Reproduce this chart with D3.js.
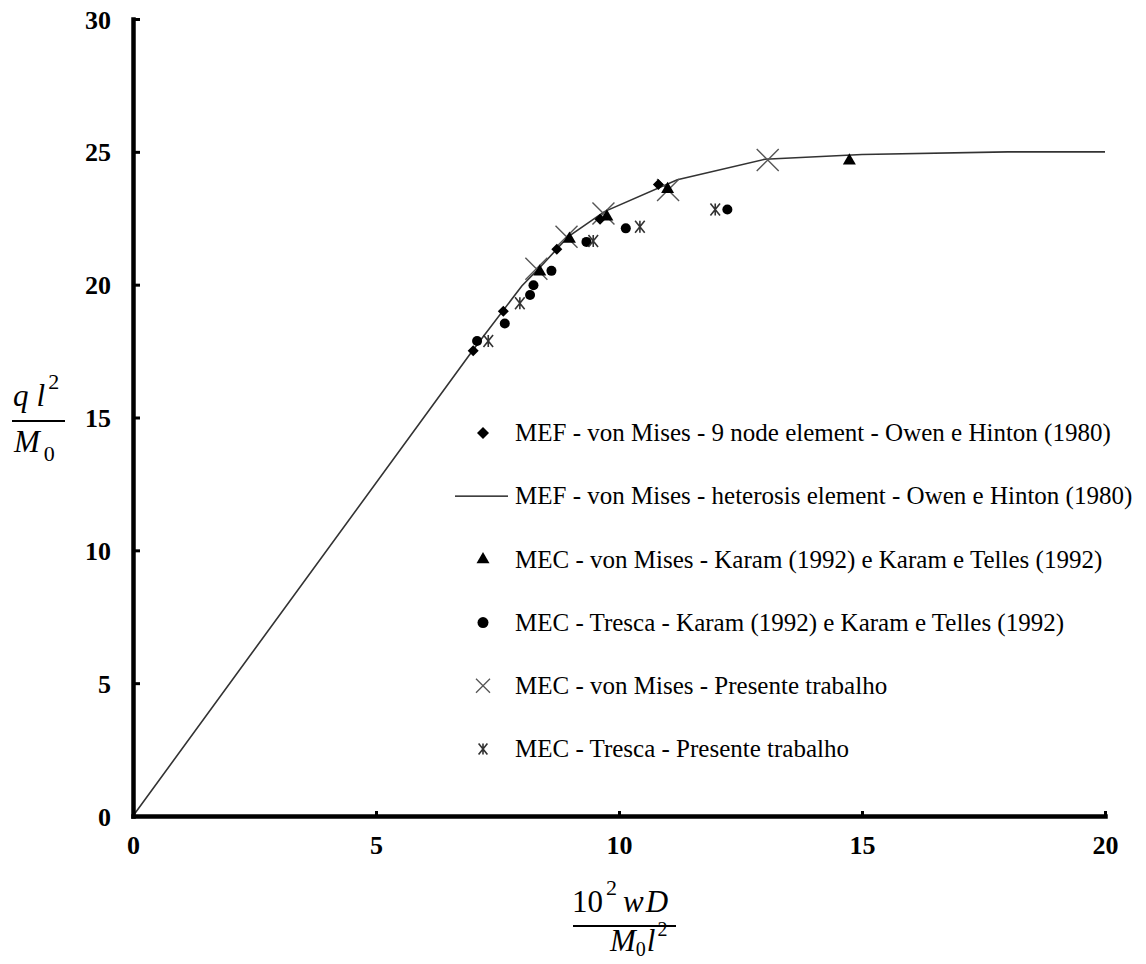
<!DOCTYPE html>
<html>
<head>
<meta charset="utf-8">
<script src="https://cdn.jsdelivr.net/npm/d3@7"></script>
<style>
  html, body { margin: 0; padding: 0; background: #fff; }
  svg { display: block; }
  text { font-family: "Liberation Serif", "Times New Roman", serif; fill: #000; }
</style>
</head>
<body>
<svg id="chart" width="1146" height="964"></svg>
<script>
// ---- data ----
const xTicks = [0, 5, 10, 15, 20];
const yTicks = [0, 5, 10, 15, 20, 25, 30];

// MEF - von Mises - 9 node element - Owen e Hinton (1980)
const mef9Node = [[7.00, 17.51], [7.62, 19.00], [8.72, 21.33], [9.61, 22.46], [10.81, 23.77]];
// MEF - von Mises - heterosis element - Owen e Hinton (1980)
const mefHeterosis = [[0, 0], [7.0, 17.55], [8.0, 19.95], [8.4, 20.7], [8.95, 21.8], [9.7, 22.75],
  [11.2, 23.95], [13.0, 24.72], [15.0, 24.9], [18.0, 25.0], [20.0, 25.0]];
// MEC - von Mises - Karam (1992) e Karam e Telles (1992)
const mecVonMisesKaram = [[8.37, 20.49], [8.98, 21.72], [9.75, 22.56], [11.00, 23.59], [14.74, 24.66]];
// MEC - Tresca - Karam (1992) e Karam e Telles (1992)
const mecTrescaKaram = [[7.08, 17.88], [7.65, 18.54], [8.17, 19.61], [8.24, 19.98], [8.61, 20.52],
  [9.33, 21.61], [10.14, 22.12], [12.23, 22.83]];
// MEC - von Mises - Presente trabalho
const mecVonMisesPresente = [[8.30, 20.60], [8.92, 21.80], [9.68, 22.68], [11.01, 23.56], [13.06, 24.69]];
// MEC - Tresca - Presente trabalho
const mecTrescaPresente = [[7.31, 17.88], [7.96, 19.30], [9.47, 21.64], [10.43, 22.18], [11.98, 22.83]];

const legendLabels = [
  "MEF - von Mises - 9 node element - Owen e Hinton (1980)",
  "MEF - von Mises - heterosis element - Owen e Hinton (1980)",
  "MEC - von Mises - Karam (1992) e Karam e Telles (1992)",
  "MEC - Tresca - Karam (1992) e Karam e Telles (1992)",
  "MEC - von Mises - Presente trabalho",
  "MEC - Tresca - Presente trabalho"
];

// ---- layout ----
const svg = d3.select("#chart");
const x = d3.scaleLinear().domain([0, 20]).range([133, 1105]);
const y = d3.scaleLinear().domain([0, 30]).range([816, 19]);

// ---- marker drawers ----
function diamond(g, s) {
  g.append("path").attr("d", `M0,${-s}L${s},0L0,${s}L${-s},0Z`).attr("fill", "#000");
}
function triangle(g, side) {
  g.append("path").attr("d", d3.symbol(d3.symbolTriangle, side * side * Math.sqrt(3) / 4)()).attr("fill", "#000");
}
function circle(g, r) {
  g.append("circle").attr("r", r).attr("fill", "#000");
}
function cross(g, s, w) {
  g.append("path").attr("d", `M${-s},${-s}L${s},${s}M${-s},${s}L${s},${-s}`)
    .attr("stroke", "#555").attr("stroke-width", w).attr("fill", "none");
}
function star(g, s) {
  g.append("path").attr("d", `M${-s*0.8},${-s}L${s*0.8},${s}M${-s*0.8},${s}L${s*0.8},${-s}M0,${-s}L0,${s}`)
    .attr("stroke", "#333").attr("stroke-width", 1.6).attr("fill", "none");
}

// ---- line ----
svg.append("path")
  .datum(mefHeterosis)
  .attr("d", d3.line().x(d => x(d[0])).y(d => y(d[1])))
  .attr("fill", "none").attr("stroke", "#333").attr("stroke-width", 1.6);

function plot(data, fn) {
  svg.append("g").selectAll("g").data(data).join("g")
    .attr("transform", d => `translate(${x(d[0])},${y(d[1])})`)
    .each(function () { fn(d3.select(this)); });
}
plot(mecVonMisesPresente, g => cross(g, 11, 1.4));
plot(mecTrescaKaram, g => circle(g, 5));
plot(mecVonMisesKaram, g => triangle(g, 13));
plot(mef9Node, g => diamond(g, 5.5));
plot(mecTrescaPresente, g => star(g, 6));

// ---- axes ----
const xAxis = d3.axisBottom(x).tickValues(xTicks).tickSize(-5).tickSizeOuter(0).tickPadding(20).tickFormat(d3.format("d"));
const yAxis = d3.axisLeft(y).tickValues(yTicks).tickSize(-7).tickSizeOuter(0).tickPadding(22).tickFormat(d3.format("d"));

const gx = svg.append("g").attr("transform", `translate(0,${y(0)})`).call(xAxis);
const gy = svg.append("g").attr("transform", `translate(${x(0)},0)`).call(yAxis);
[gx, gy].forEach(g => {
  g.select(".domain").attr("stroke", "#000").attr("stroke-width", 4.5).attr("stroke-linecap", "square");
  g.selectAll(".tick line").attr("stroke", "#000").attr("stroke-width", 3);
  g.selectAll(".tick text").attr("font-family", "Liberation Serif, serif")
    .attr("font-weight", "bold").attr("font-size", 26).attr("fill", "#000");
});
gy.selectAll(".tick text").attr("dy", "0.35em");

// ---- legend ----
const leg = svg.append("g");
const legY0 = 433, legStep = 63.2;
const legendFns = [
  g => diamond(g, 6),
  g => g.append("line").attr("x1", -28).attr("x2", 25).attr("stroke", "#000").attr("stroke-width", 1.3),
  g => triangle(g, 13),
  g => circle(g, 5.5),
  g => cross(g, 7, 1.3),
  g => star(g, 5.5)
];
legendLabels.forEach((t, i) => {
  const g = leg.append("g").attr("transform", `translate(483,${legY0 + i * legStep})`);
  legendFns[i](g);
  leg.append("text").attr("x", 515).attr("y", legY0 + i * legStep).attr("dy", "0.33em")
    .attr("font-size", 25).text(t);
});

// ---- y axis label: q l^2 / M_0 ----
const yl = svg.append("g").attr("font-size", 31);
yl.append("text").attr("x", 13).attr("y", 406)
  .html('<tspan font-style="italic">q</tspan><tspan dx="8" font-style="italic">l</tspan><tspan dx="3" dy="-17" font-size="22">2</tspan>');
svg.append("line").attr("x1", 12).attr("x2", 65).attr("y1", 421).attr("y2", 421).attr("stroke", "#000").attr("stroke-width", 2);
yl.append("text").attr("x", 14).attr("y", 452)
  .html('<tspan font-style="italic">M</tspan><tspan dx="4" dy="9" font-size="22">0</tspan>');

// ---- x axis label: 10^2 wD / M_0 l^2 ----
const xl = svg.append("g").attr("font-size", 31);
xl.append("text").attr("x", 572).attr("y", 912)
  .html('<tspan>10</tspan><tspan dx="3" dy="-17" font-size="22">2</tspan><tspan dx="6" dy="17" font-style="italic">w</tspan><tspan dx="2" font-style="italic">D</tspan>');
svg.append("line").attr("x1", 573).attr("x2", 676).attr("y1", 926).attr("y2", 926).attr("stroke", "#000").attr("stroke-width", 2);
xl.append("text").attr("x", 610).attr("y", 951)
  .html('<tspan font-style="italic">M</tspan><tspan dx="0" dy="5" font-size="20">0</tspan><tspan dx="1" dy="-5" font-style="italic">l</tspan><tspan dx="2" dy="-15" font-size="20">2</tspan>');
</script>
</body>
</html>
